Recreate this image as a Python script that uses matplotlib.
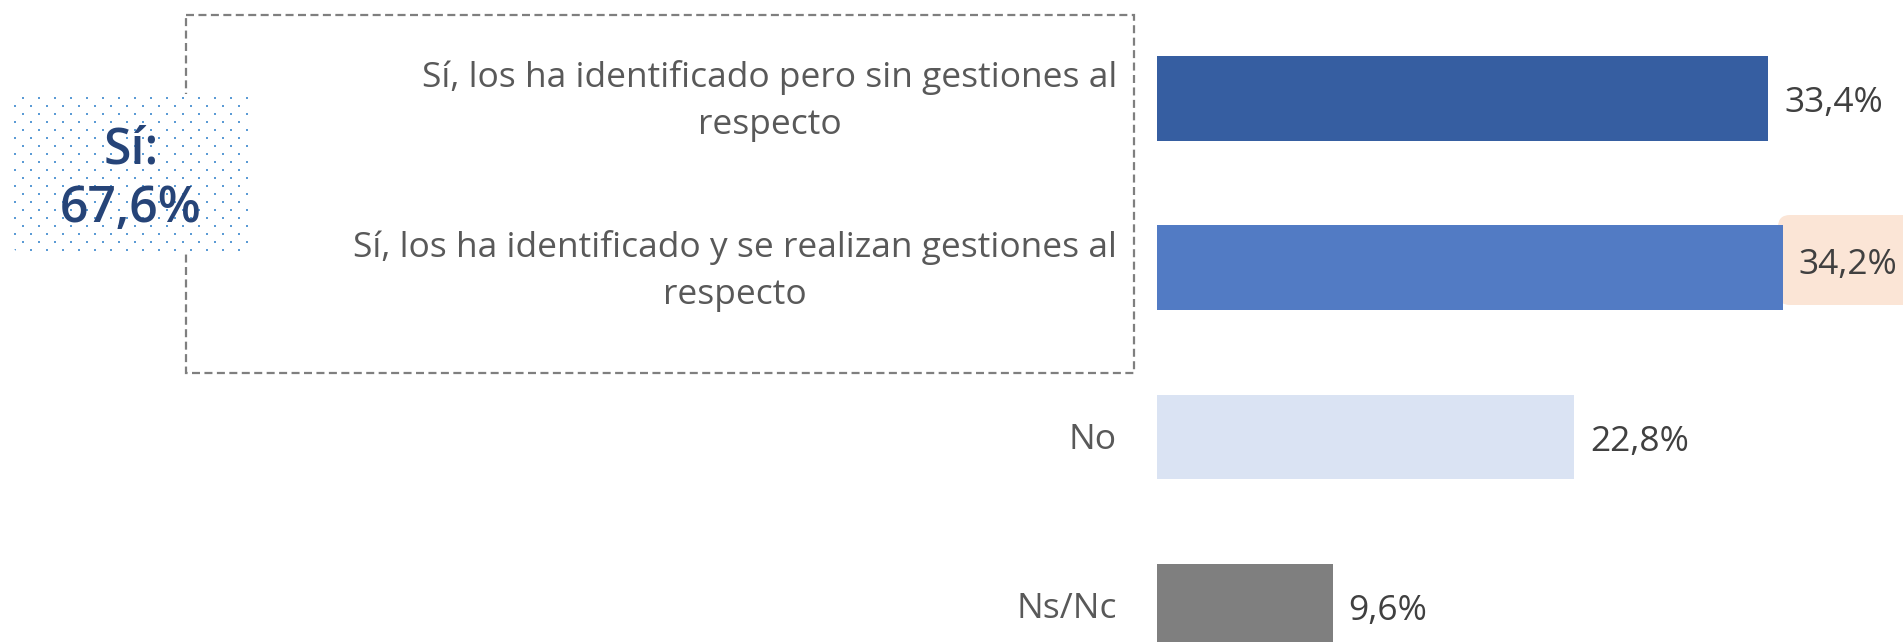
import numpy as np
import matplotlib
matplotlib.use("Agg")
import matplotlib.pyplot as plt
from matplotlib.patches import FancyBboxPatch, Rectangle

plt.rcParams['font.family'] = ['Open Sans', 'DejaVu Sans']

categories = ["Sí, los ha identificado pero sin gestiones al\nrespecto",
              "Sí, los ha identificado y se realizan gestiones al\nrespecto",
              "No",
              "Ns/Nc"]
values = [33.4, 34.2, 22.8, 9.6]
value_labels = ["33,4%", "34,2%", "22,8%", "9,6%"]
bar_colors = ["#365EA1", "#527BC4", "#DAE3F3", "#7F7F7F"]
summary_label = "Sí:\n67,6%"

W, H = 1903, 642
fig = plt.figure(figsize=(W / 100, H / 100), dpi=100)

# background axes (figure pixel coordinates) for highlight box
bg = fig.add_axes([0, 0, 1, 1], zorder=-1)
bg.set_xlim(0, W)
bg.set_ylim(H, 0)
bg.axis('off')
bg.add_patch(FancyBboxPatch((1778, 215), 160, 90,
                            boxstyle="round,pad=0,rounding_size=12",
                            fc="#FBE5D6", ec='none'))

# axes for bars
ax_left = 1157 / W
ax = fig.add_axes([ax_left, 0, 1 - ax_left, 1])
ax.patch.set_alpha(0)
px_per_unit = 18.3
ax.set_xlim(0, (W - 1157) / px_per_unit)
row_px = 169.3
top_c = 98.3
ax.set_ylim(3 + (H - (top_c + 3 * row_px)) / row_px, -top_c / row_px)
ax.axis('off')

y = np.arange(len(values))
ax.barh(y, values, height=0.5, color=bar_colors, zorder=3)

for i, (v, lab) in enumerate(zip(values, value_labels)):
    dy = 3 if i == 1 else -5
    ax.annotate(lab, xy=(v, i), xytext=(16, dy), textcoords='offset pixels',
                ha='left', va='center', fontsize=25.5, color='#404040', zorder=4)

# category labels
for i, c in enumerate(categories):
    ax.annotate(c, xy=(0, i), xytext=(-40, -3), textcoords='offset pixels',
                ha='right', va='center', multialignment='center',
                fontsize=25.5, color='#595959', linespacing=1.5)

# overlay axes for decorations
ov = fig.add_axes([0, 0, 1, 1], zorder=5)
ov.set_xlim(0, W)
ov.set_ylim(H, 0)
ov.axis('off')
ov.patch.set_alpha(0)

ov.add_patch(Rectangle((186, 15), 1133.5 - 186, 372.5 - 15, fill=False,
                       ec='#7F7F7F', lw=1.6, ls=(0, (3.6, 2.0))))

# dotted summary box
bx, by, bw, bh = 12, 94, 239, 159
ov.add_patch(FancyBboxPatch((bx, by), bw, bh, boxstyle="round,pad=0,rounding_size=12",
                            fc='white', ec='none', zorder=2))
clip = FancyBboxPatch((bx, by), bw, bh, boxstyle="round,pad=0,rounding_size=12",
                      fc='none', ec='none')
ov.add_patch(clip)
xs, ys = [], []
for r, yy in enumerate(np.arange(97.7, 252, 8)):
    start = 22.7 if r % 2 == 0 else 15
    for xx in np.arange(start, 250, 16):
        xs.append(xx)
        ys.append(yy)
sc = ov.scatter(xs, ys, s=2.2, c='#5B9BD5', marker='s', linewidths=0, zorder=3)
sc.set_clip_path(clip)
ov.text(131, 180, summary_label, ha='center', va='center', fontsize=36,
        color='#264478', fontweight='semibold', linespacing=1.22, zorder=4)

fig.savefig("out.png", dpi=100)
